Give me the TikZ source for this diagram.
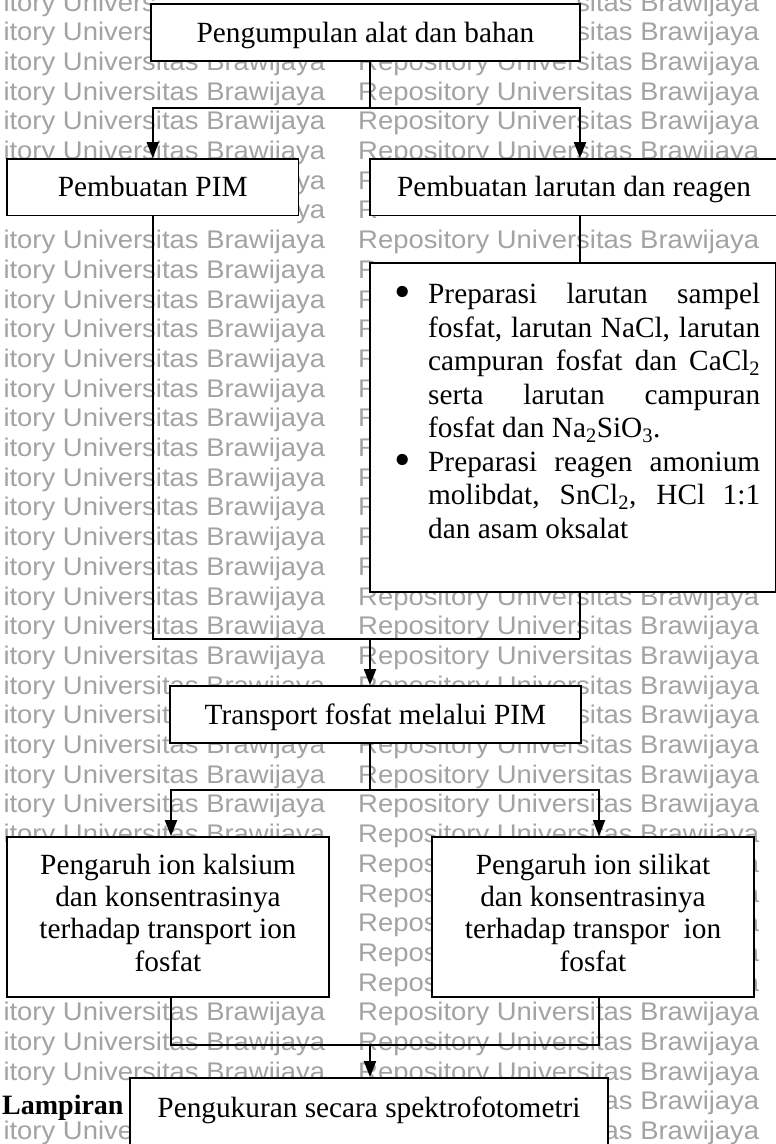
\documentclass[tikz,border=0pt]{standalone}
\usepackage{graphicx}
\usepackage{fontspec}
\setmainfont{Liberation Serif}
\newfontfamily\wmfont{Liberation Sans}
\usetikzlibrary{arrows.meta,calc}
\newcommand\wmtext[1]{\scalebox{1.076}[1]{#1}}
\newcommand\wmleft{\phantom{Repos}itory Universitas Brawijaya}
\newcommand\wmright{Repository Universitas Brawijaya}
\newcommand\bigbul{\raisebox{-4pt}{\scalebox{1.6}{\textbullet}}}
\tikzset{
  box/.style={draw=black, line width=1.8pt, fill=white, inner sep=0pt,
    font=\fontsize{29.3}{32.3}\selectfont},
  onebox/.style={box, text height=21pt, text depth=2pt},
  link/.style={line width=1.8pt, draw=black},
  arr/.style={link, -{Triangle[length=16pt,width=12pt]}},
  wm/.style={inner sep=0pt, anchor=base west, text=black!36,
    font=\wmfont\fontsize{25.5}{25.5}\selectfont},
}
\begin{document}
\begin{tikzpicture}[x=1pt,y=-1pt]
\clip (0,0) rectangle (776,1144);
\fill[white] (0,0) rectangle (776,1144);
% ---------- watermark rows ----------
\foreach \k in {2,3,4,5,8,19,20,21,22,23,25,26,27,28,34,35,36}{
  \node[wm] (wl\k) at (-76,{11+29.7*\k}) {\wmtext{\wmleft}};
  \node[wm] (wr\k) at (358,{11+29.7*\k}) {\wmtext{\wmright}};
}
\foreach \k in {9,...,18}{
  \node[wm] (wl\k) at (-76,{11+29.7*\k}) {\wmtext{\wmleft}};
  \node[wm] (wr\k) at (358,{11+29.7*\k}) {\wmtext{R}};
}
\foreach \k in {0,1}{
  \node[wm] (wl\k) at (-76,{11+29.7*\k}) {\wmtext{\phantom{Repos}itory Univers}};
  \node[wm] (wr\k) at (358,{11+29.7*\k}) {\wmtext{\phantom{Repository Univer}sitas Brawijaya}};
}
\foreach \k in {6,7}{
  \node[wm] (wl\k) at (-76,{11+29.7*\k}) {\wmtext{\phantom{Repository Universitas Brawija}ya}};
  \node[wm] (wr\k) at (358,{11+29.7*\k}) {\wmtext{R}};
}
\node[wm] (wl24) at (-76,{11+29.7*24}) {\wmtext{\phantom{Repos}itory Universit}};
\node[wm] (wr24) at (358,{11+29.7*24}) {\wmtext{\phantom{Repository Univer}sitas Brawijaya}};
\foreach \k in {29,...,33}{
  \node[wm] (wr\k) at (358,{11+29.7*\k}) {\wmtext{Repos\phantom{itory Universitas Brawijay}a}};
}
\node[wm] (wr37) at (358,{11+29.7*37}) {\wmtext{\phantom{Repository Universit}as Brawijaya}};
\node[wm] (wl38) at (-76,{11+29.7*38}) {\wmtext{\phantom{Repos}itory Unive}};
\node[wm] (wr38) at (358,{11+29.7*38}) {\wmtext{\phantom{Repository Universit}as Brawijaya}};
% ---------- boxes ----------
\node[onebox, minimum width=429pt, minimum height=57pt] (b1) at (365.5,32.5) {Pengumpulan alat dan bahan};
\node[onebox, minimum width=291.5pt, minimum height=56.5pt] (b2) at (152.75,187.25) {Pembuatan PIM};
\node[onebox, minimum width=408pt, minimum height=56.5pt] (b3) at (574,187.25) {Pembuatan larutan dan reagen};
\node[box, minimum width=405.5pt, minimum height=329pt] (b4) at (572.75,427.5) {};
\node[anchor=north west, inner sep=0pt, text width=366pt, align=justify,
      font=\fontsize{29.3}{33.5}\selectfont] (b4t) at (394,283.2)
 {\noindent\hangindent=34pt\hangafter=1\makebox[34pt][l]{\bigbul}Preparasi larutan sampel\linebreak
  fosfat, larutan NaCl, larutan\linebreak
  campuran fosfat dan CaCl\textsubscript{2}\linebreak
  serta larutan campuran\linebreak
  fosfat dan Na\textsubscript{2}SiO\textsubscript{3}.\par
  \noindent\hangindent=34pt\hangafter=1\makebox[34pt][l]{\bigbul}Preparasi reagen amonium\linebreak
  molibdat, SnCl\textsubscript{2}, HCl 1:1\linebreak
  dan asam oksalat\par};
\node[onebox, minimum width=411pt, minimum height=57pt] (b5) at (375.5,714.5) {Transport fosfat melalui PIM};
\node[box, align=center, minimum width=322pt, minimum height=160pt] (b6) at (168,917)
  {Pengaruh ion kalsium\\ dan konsentrasinya\\ terhadap transport ion\\ fosfat\rule[-9pt]{0pt}{9pt}};
\node[box, align=center, minimum width=322pt, minimum height=160pt] (b7) at (593,917)
  {Pengaruh ion silikat\\ dan konsentrasinya\\ terhadap transpor~ ion\\ fosfat\rule[-9pt]{0pt}{9pt}};
\node[box, anchor=north, text height=40pt, text depth=43pt, minimum width=478pt] (b8) at (369,1077)
  {Pengukuran secara spektrofotometri};
\node[anchor=base west, inner sep=0pt, font=\bfseries\fontsize{28}{28}\selectfont] (lamp) at (2,1114) {Lampiran};
% ---------- connectors ----------
\coordinate (j1) at (370,108);
\coordinate (j3) at (580,108);
\draw[link] (b1.south -| j1) -- (j1);
\draw[arr] (j1) -| (b2.north);
\draw[arr] (j1) -- (j3) -- (j3 |- b3.north);
\coordinate (j2) at (152.75,639);
\coordinate (j2r) at (580,639);
\coordinate (j2m) at (370,639);
\draw[link] (b2.south) -- (j2) -- (j2r);
\draw[link] (b3.south -| j2r) -- (b4.north -| j2r);
\draw[link] (b4.south -| j2r) -- (j2r);
\draw[arr] (j2m) -- (j2m |- b5.north);
\coordinate (j4) at (370,790);
\coordinate (j4l) at (171,790);
\coordinate (j4r) at (599,790);
\draw[link] (b5.south -| j4) -- (j4);
\draw[arr] (j4) -- (j4l) -- (j4l |- b6.north);
\draw[arr] (j4) -- (j4r) -- (j4r |- b7.north);
\coordinate (j5) at (370,1045);
\coordinate (j5l) at (171,1045);
\coordinate (j5r) at (599,1045);
\draw[link] (b6.south -| j5l) -- (j5l) -- (j5r) -- (b7.south -| j5r);
\draw[arr] (j5) -- (j5 |- b8.north);
\end{tikzpicture}
\end{document}
